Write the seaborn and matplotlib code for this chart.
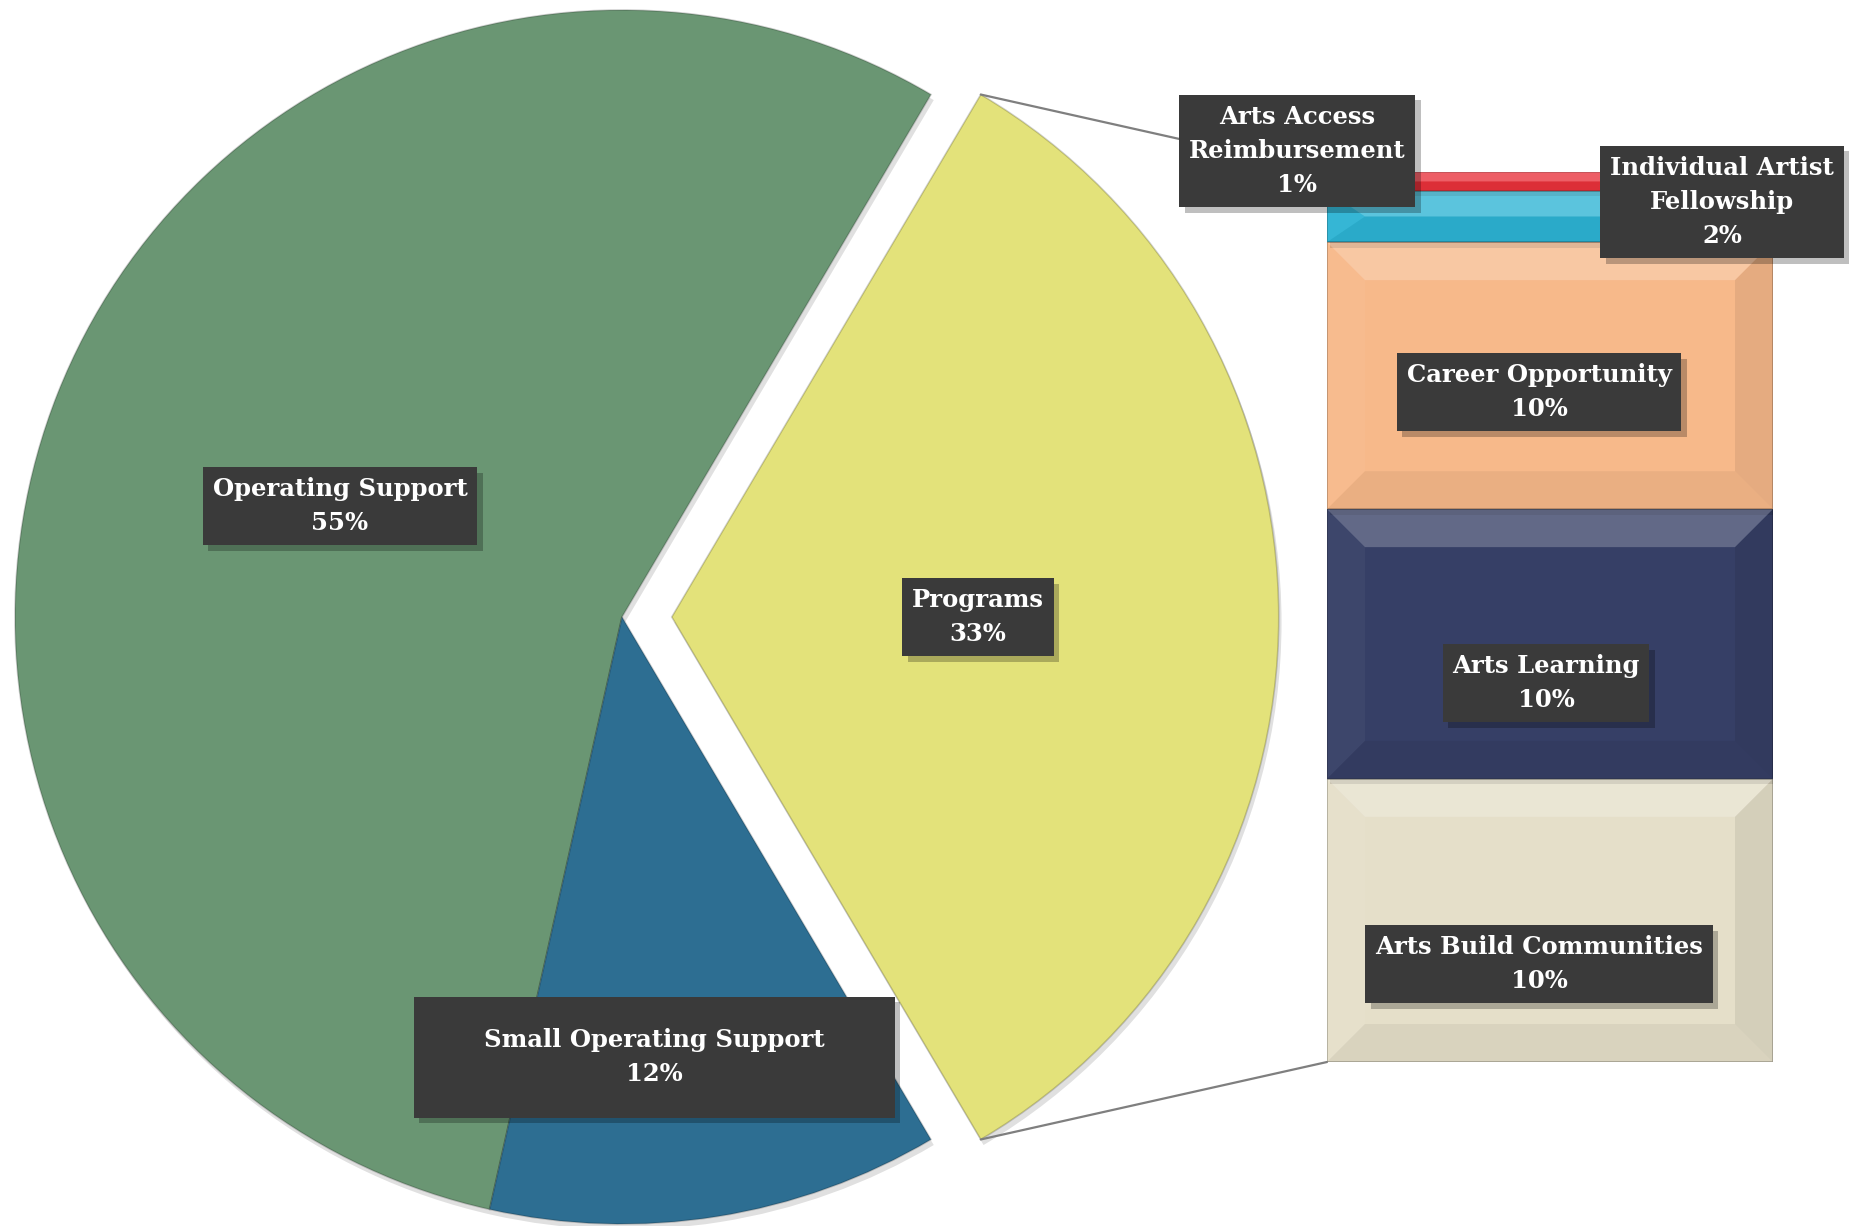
import numpy as np
import matplotlib
matplotlib.use("Agg")
import matplotlib.pyplot as plt
import matplotlib.patheffects as pe
from matplotlib.patches import ConnectionPatch, Polygon, Rectangle
import seaborn as sns

# pie part (Programs is split out into the bar)
pie_labels = ["Programs", "Operating Support", "Small Operating Support"]
pie_values = [33, 55, 12]
pie_colors = ["#E3E27A", "#6A9673", "#2D6E92"]

# bar part, bottom to top
bar_labels = ["Arts Build Communities", "Arts Learning", "Career Opportunity",
              "Individual Artist\nFellowship", "Arts Access\nReimbursement"]
bar_values = [10.5, 10.0, 9.9, 1.9, 0.7]
bar_colors = ["#E5DFC9", "#363F66", "#F7B98A", "#2DB4D4", "#E8313B"]

W, H = 1853, 1226
sns.set_theme(style="white")
plt.rcParams["font.family"] = ["DejaVu Serif"]

fig = plt.figure(figsize=(W / 100, H / 100), dpi=100)
fig.patch.set_facecolor("white")

# pie axes, placed by pixel center / radius
cx, cy, rad = 622, 609, 607
lim = 1.1
side = 2 * lim * rad
ax_pie = fig.add_axes([(cx - side / 2) / W, (cy - side / 2) / H, side / W, side / H])

prog_angle = pie_values[0] / sum(pie_values) * 360
explode = [0.082, 0, 0]
wedges, _ = ax_pie.pie(pie_values, colors=pie_colors, startangle=-prog_angle / 2,
                       explode=explode, counterclock=True,
                       wedgeprops=dict(linewidth=1.2, edgecolor="#00000030"))
ax_pie.set_xlim(-lim, lim)
ax_pie.set_ylim(-lim, lim)
ax_pie.set_aspect("equal")
ax_pie.axis("off")
shadow = [pe.SimplePatchShadow(offset=(2, -4), shadow_rgbFace="#000000", alpha=0.12), pe.Normal()]
for w in wedges:
    w.set_path_effects(shadow)

# stacked bar axes
bx0, bx1, by0, by1 = 1327, 1773, 164, 1054
ax_bar = fig.add_axes([bx0 / W, by0 / H, (bx1 - bx0) / W, (by1 - by0) / H])
total = sum(bar_values)
bottoms = np.concatenate([[0], np.cumsum(bar_values)[:-1]])
bars = ax_bar.bar(np.zeros(len(bar_values)), bar_values, bottom=bottoms, width=1.0,
                  color=bar_colors, edgecolor="#00000040", linewidth=1.2)
for b in bars:
    b.set_path_effects(shadow)
ax_bar.set_xlim(-0.5, 0.5)
ax_bar.set_ylim(0, total)
ax_bar.axis("off")

# soft bevel look on each bar segment
px_x = (bx1 - bx0) / 1.0
px_y = (by1 - by0) / total
bev = 38
for val, bot in zip(bar_values, bottoms):
    dx = bev / px_x
    dy = min(bev / px_y, val / 2)
    x0, x1, y0, y1 = -0.5, 0.5, bot, bot + val
    facets = [
        ([(x0, y1), (x1, y1), (x1 - dx, y1 - dy), (x0 + dx, y1 - dy)], "white", 0.22),
        ([(x0, y0), (x1, y0), (x1 - dx, y0 + dy), (x0 + dx, y0 + dy)], "black", 0.05),
        ([(x0, y0), (x0, y1), (x0 + dx, y1 - dy), (x0 + dx, y0 + dy)], "white", 0.04),
        ([(x1, y0), (x1, y1), (x1 - dx, y1 - dy), (x1 - dx, y0 + dy)], "black", 0.07),
    ]
    for pts, col, a in facets:
        ax_bar.add_patch(Polygon(pts, closed=True, facecolor=col, alpha=a, edgecolor="none"))

# connector lines from the Programs wedge to the bar
th1 = np.deg2rad(wedges[0].theta1)
th2 = np.deg2rad(wedges[0].theta2)
ox = wedges[0].center[0]
for th, yb in [(th2, total), (th1, 0)]:
    con = ConnectionPatch(xyA=(ox + np.cos(th), np.sin(th)), coordsA=ax_pie.transData,
                          xyB=(-0.5, yb), coordsB=ax_bar.transData,
                          color="#7F7F7F", linewidth=1.6)
    fig.add_artist(con)

# data labels
box_shadow = [pe.SimplePatchShadow(offset=(4, -4), shadow_rgbFace="#000000", alpha=0.25), pe.Normal()]


def put_label(text, x, y, pad=0.4, size=None):
    t = fig.text(x / W, 1 - y / H, text, ha="center", va="center", color="white",
                 fontsize=17.5, fontweight="bold", linespacing=1.55, zorder=10)
    if size is None:
        t.set_bbox(dict(boxstyle=f"square,pad={pad}", facecolor="#3A3A3A", edgecolor="none"))
        t.get_bbox_patch().set_path_effects(box_shadow)
    else:
        bw, bh = size
        r = Rectangle(((x - bw / 2) / W, 1 - (y + bh / 2) / H), bw / W, bh / H,
                      transform=fig.transFigure, facecolor="#3A3A3A", edgecolor="none", zorder=9)
        r.set_path_effects(box_shadow)
        fig.add_artist(r)
    return t


def pct(v, tot):
    return f"{round(v / tot * 100):.0f}%"


pie_total = sum(pie_values)
put_label(f"{pie_labels[1]}\n{pct(pie_values[1], pie_total)}", 340, 506)
put_label(f"{pie_labels[2]}\n{pct(pie_values[2], pie_total)}", 654, 1057, size=(481, 121))
put_label(f"{pie_labels[0]}\n{pct(pie_values[0], pie_total)}", 978, 617)

bar_pos = [(1539, 964), (1546, 683), (1539, 392), (1722, 202), (1297, 151)]
for lab, v, (x, y) in zip(bar_labels, bar_values, bar_pos):
    put_label(f"{lab}\n{pct(v, pie_total)}", x, y)

fig.savefig("out.png", dpi=100, facecolor="white")
